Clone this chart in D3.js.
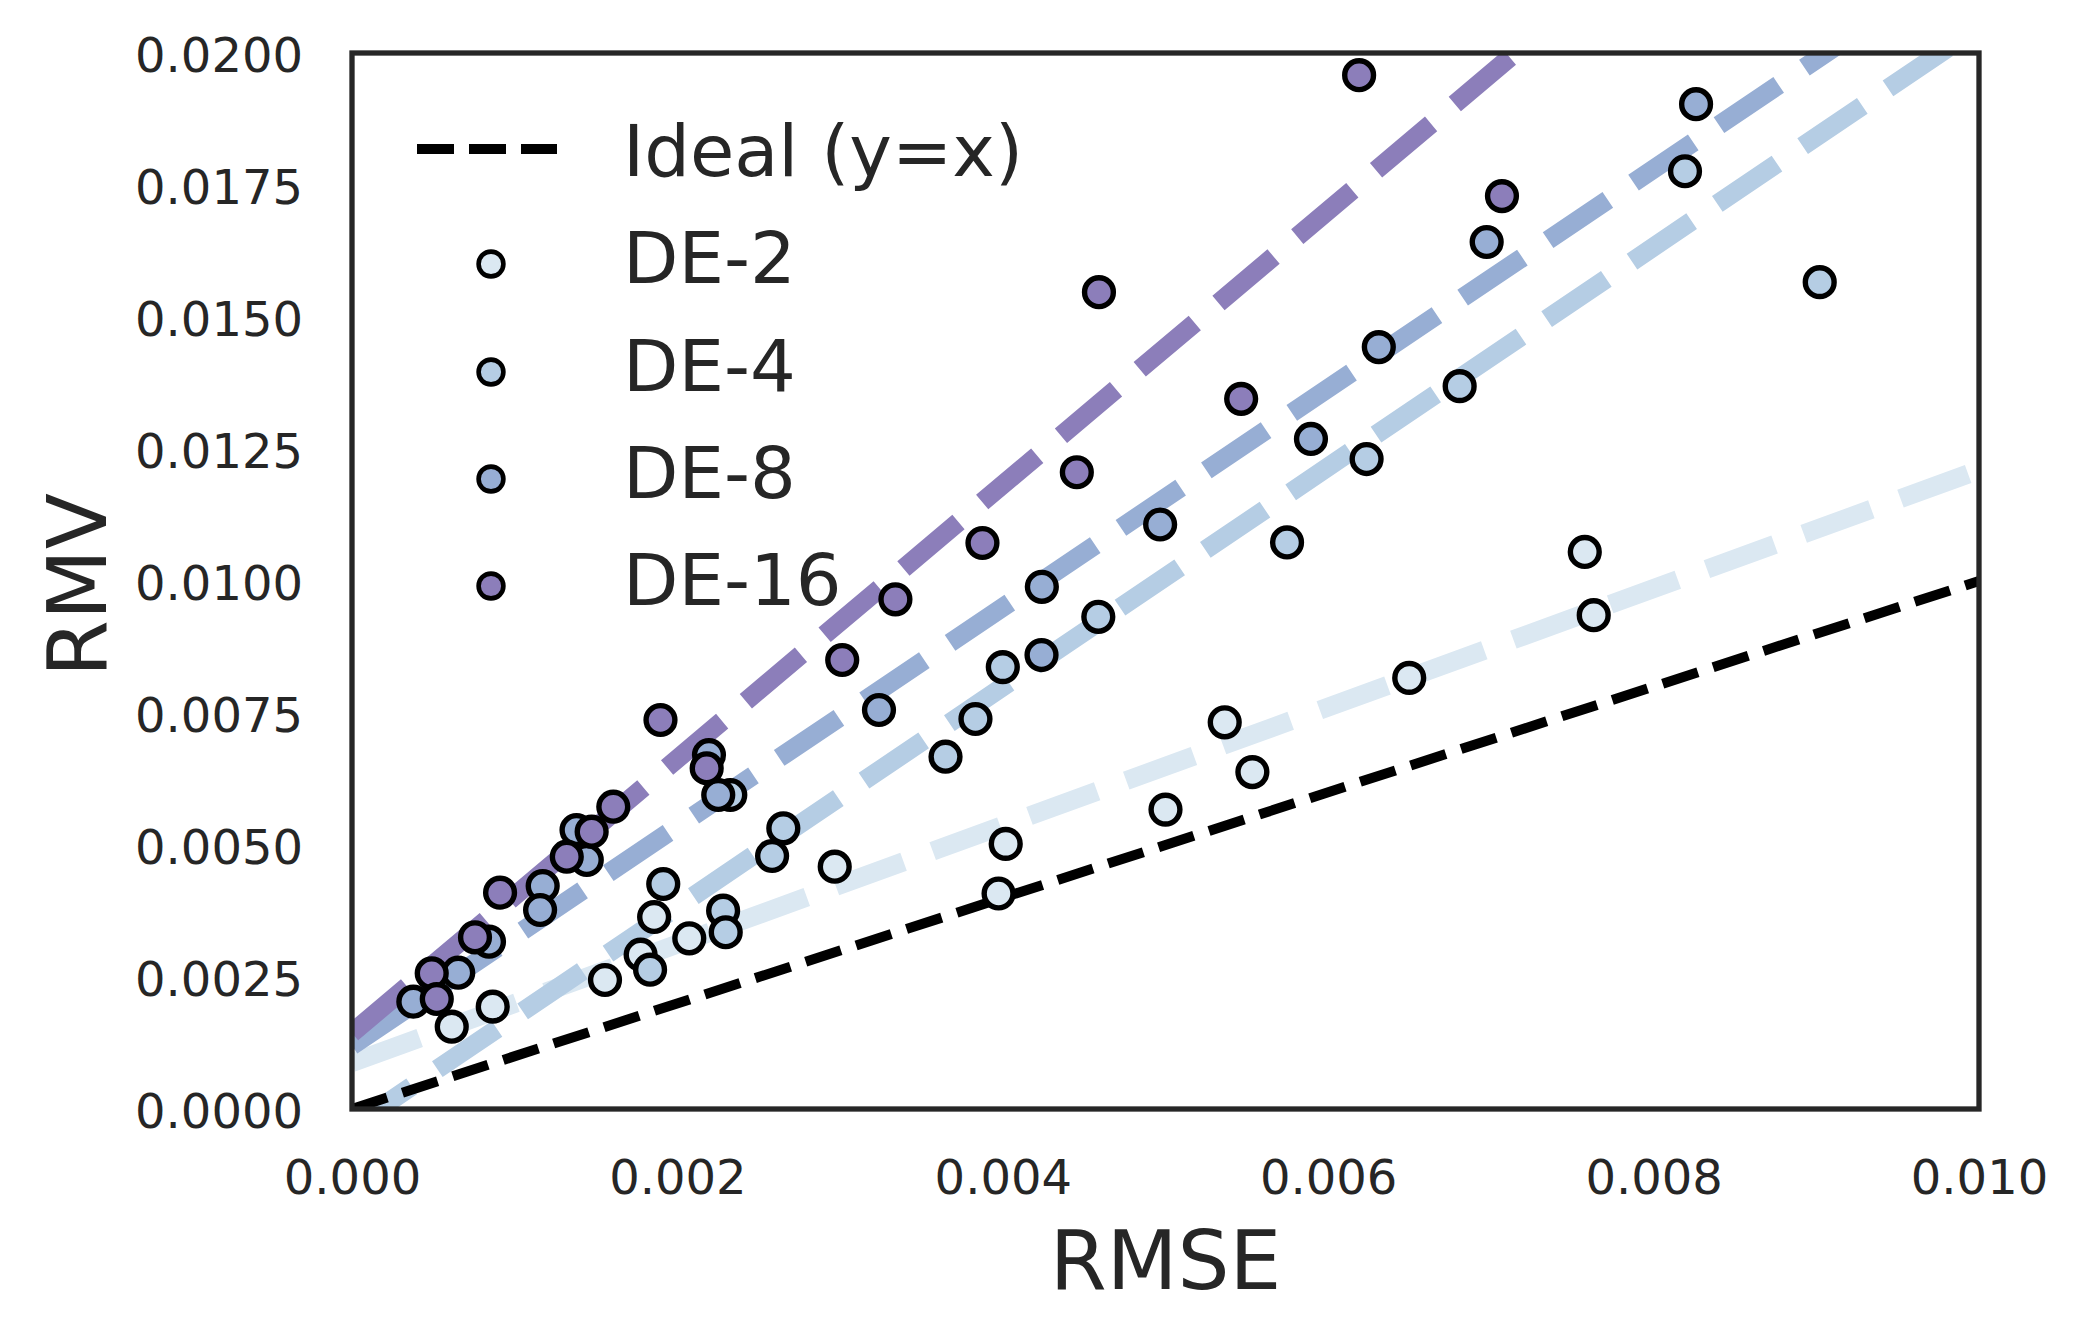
<!DOCTYPE html>
<html>
<head>
<meta charset="utf-8">
<script src="https://cdn.jsdelivr.net/npm/d3@7"></script>
<style>
  html, body { margin: 0; padding: 0; background: #ffffff; }
  svg { display: block; font-family: "DejaVu Sans", sans-serif; }
</style>
</head>
<body>
<svg id="chart" width="2084" height="1340"></svg>
<script>
// ---------------- data ----------------
const seriesNames = ["DE-2", "DE-4", "DE-8", "DE-16"];
const seriesColors = ["#dbe8f2", "#b5cde4", "#97aed4", "#8c7eba"];

const de2RMSE = [0.007577, 0.007632, 0.006498, 0.005364, 0.005534, 0.005000, 0.004018, 0.003974, 0.002967, 0.001857, 0.002073, 0.001774, 0.001555, 0.000865, 0.000613];
const de2RMV  = [0.01055, 0.009352, 0.008165, 0.007324, 0.006381, 0.005670, 0.005021, 0.004081, 0.004589, 0.003636, 0.003233, 0.002922, 0.002443, 0.001938, 0.001559];

const de4RMSE = [0.008193, 0.009021, 0.006808, 0.006236, 0.005747, 0.004587, 0.004000, 0.003832, 0.003648, 0.002325, 0.002651, 0.002582, 0.001913, 0.002281, 0.002297, 0.001832];
const de4RMV  = [0.01776, 0.01566, 0.01369, 0.01231, 0.01073, 0.009322, 0.008369, 0.007386, 0.006672, 0.005947, 0.005316, 0.004792, 0.004261, 0.003756, 0.003348, 0.002638];

const de8RMSE = [0.008261, 0.006974, 0.006311, 0.005894, 0.004967, 0.004240, 0.004238, 0.003239, 0.002194, 0.002251, 0.001380, 0.001443, 0.001172, 0.001156, 0.000842, 0.000653, 0.000377];
const de8RMV  = [0.01903, 0.01642, 0.01443, 0.01269, 0.01107, 0.009890, 0.008598, 0.007557, 0.006705, 0.005947, 0.005284, 0.004716, 0.004223, 0.003769, 0.003169, 0.002581, 0.002032];

const de16RMSE = [0.006190, 0.007068, 0.004591, 0.005465, 0.004455, 0.003875, 0.003340, 0.003013, 0.001896, 0.002180, 0.001606, 0.001473, 0.001320, 0.000910, 0.000756, 0.000490, 0.000521];
const de16RMV  = [0.01958, 0.01729, 0.01547, 0.01345, 0.01206, 0.01072, 0.009653, 0.008504, 0.007367, 0.006453, 0.005725, 0.005252, 0.004778, 0.004097, 0.003252, 0.002570, 0.002083];

// fitted trend lines (intercept, slope)
const fitIntercept = [0.000878, -0.000337, 0.00120, 0.00144];
const fitSlope     = [1.1223, 2.083, 2.075, 2.596];

const xTicks = [0, 0.002, 0.004, 0.006, 0.008, 0.010];
const yTicks = [0, 0.0025, 0.005, 0.0075, 0.01, 0.0125, 0.015, 0.0175, 0.02];
const xDomain = [0, 0.01];
const yDomain = [0, 0.02];

const allRMSE = [de2RMSE, de4RMSE, de8RMSE, de16RMSE];
const allRMV  = [de2RMV, de4RMV, de8RMV, de16RMV];

// ---------------- layout ----------------
const pLeft = 352, pRight = 1979, pTop = 53, pBottom = 1109;
const textColor = "#262626";

const svg = d3.select("#chart");
svg.append("rect").attr("width", 2084).attr("height", 1340).attr("fill", "#ffffff");

const x = d3.scaleLinear().domain(xDomain).range([pLeft, pRight]);
const y = d3.scaleLinear().domain(yDomain).range([pBottom, pTop]);

svg.append("defs").append("clipPath").attr("id", "plotclip")
  .append("rect").attr("x", pLeft).attr("y", pTop)
  .attr("width", pRight - pLeft).attr("height", pBottom - pTop);

const plot = svg.append("g").attr("clip-path", "url(#plotclip)");

// trend lines
const line = d3.line().x(d => x(d[0])).y(d => y(d[1]));
seriesNames.forEach((name, i) => {
  const pts = xDomain.map(v => [v, fitIntercept[i] + fitSlope[i] * v]);
  plot.append("path")
    .attr("d", line(pts))
    .attr("fill", "none")
    .attr("stroke", seriesColors[i])
    .attr("stroke-width", 19)
    .attr("stroke-dasharray", "72,31");
});

// ideal line
plot.append("path")
  .attr("d", line(xDomain.map(v => [v, v])))
  .attr("fill", "none")
  .attr("stroke", "#000000")
  .attr("stroke-width", 10)
  .attr("stroke-dasharray", "37,16");

// scatter points
seriesNames.forEach((name, i) => {
  const data = allRMSE[i].map((v, j) => [v, allRMV[i][j]]);
  plot.append("g").selectAll("circle").data(data).enter().append("circle")
    .attr("cx", d => x(d[0]))
    .attr("cy", d => y(d[1]))
    .attr("r", 14.4)
    .attr("fill", seriesColors[i])
    .attr("stroke", "#000000")
    .attr("stroke-width", 5.4);
});

// frame
svg.append("rect")
  .attr("x", pLeft).attr("y", pTop)
  .attr("width", pRight - pLeft).attr("height", pBottom - pTop)
  .attr("fill", "none").attr("stroke", textColor).attr("stroke-width", 5.3);

// axes
const xAxis = d3.axisBottom(x).tickValues(xTicks).tickFormat(d3.format(".3f")).tickSize(0).tickPadding(51);
const gx = svg.append("g").attr("transform", `translate(0,${pBottom})`).call(xAxis);
gx.select(".domain").remove();
gx.selectAll("text").attr("font-size", 48).attr("fill", textColor)
  .attr("font-family", "DejaVu Sans, sans-serif");

const yAxis = d3.axisLeft(y).tickValues(yTicks).tickFormat(d3.format(".4f")).tickSize(0).tickPadding(49);
const gy = svg.append("g").attr("transform", `translate(${pLeft},0)`).call(yAxis);
gy.select(".domain").remove();
gy.selectAll("text").attr("font-size", 48).attr("fill", textColor).attr("dy", "0.38em")
  .attr("font-family", "DejaVu Sans, sans-serif");

// axis titles
svg.append("text")
  .attr("x", (pLeft + pRight) / 2).attr("y", 1289)
  .attr("text-anchor", "middle").attr("font-size", 82).attr("fill", textColor)
  .text("RMSE");
svg.append("text")
  .attr("transform", `translate(106,${(pTop + pBottom) / 2 + 4}) rotate(-90)`)
  .attr("text-anchor", "middle").attr("font-size", 82).attr("fill", textColor)
  .text("RMV");

// legend
const legend = svg.append("g");
legend.append("line")
  .attr("x1", 417).attr("x2", 557).attr("y1", 149).attr("y2", 149)
  .attr("stroke", "#000000").attr("stroke-width", 10).attr("stroke-dasharray", "37,15");
legend.append("text").attr("x", 623).attr("y", 176)
  .attr("font-size", 72).attr("fill", textColor).text("Ideal (y=x)");
const legendRows = [283, 391, 498, 605];
seriesNames.forEach((name, i) => {
  legend.append("circle")
    .attr("cx", 491).attr("cy", legendRows[i] - 19)
    .attr("r", 12.4)
    .attr("fill", seriesColors[i]).attr("stroke", "#000000").attr("stroke-width", 4.6);
  legend.append("text").attr("x", 623).attr("y", legendRows[i])
    .attr("font-size", 72).attr("fill", textColor).text(name);
});
</script>
</body>
</html>
